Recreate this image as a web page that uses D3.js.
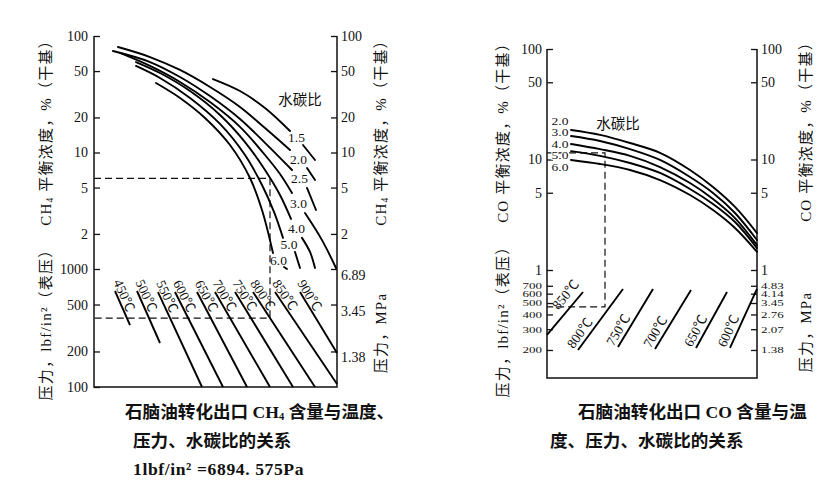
<!DOCTYPE html>
<html><head><meta charset="utf-8">
<script src="https://cdn.jsdelivr.net/npm/d3@7"></script>
<style>
body{margin:0;background:#fff;}
svg{display:block;background:#fff;}
</style></head><body>
<svg id="c" width="818" height="485"></svg>
<script>
// ---------- Left chart: CH4 ----------
const ch4Ratios = ["1.5","2.0","2.5","3.0","4.0","5.0","6.0"];
const ch4MainX = [
 [119,146,171,196],
 [24,56,86,116,146,171,196],
 [19,56,86,116,146,171,198],
 [26,56,86,116,146,171,186,198],
 [42,66,96,126,151,171,186,197],
 [42,66,96,126,151,168,180,189],
 [62,86,111,136,156,168,179]
];
const ch4MainPct = [
 [42.7,33.7,24.1,15.3],
 [80.4,66.0,51.1,36.5,24.6,16.2,10.5],
 [74.3,59.8,44.5,30.5,19.4,12.1,7.08],
 [71.5,55.3,40.3,27.1,16.6,9.52,6.54,4.49],
 [59.8,48.1,33.7,21.0,12.3,7.08,4.32,2.69],
 [55.3,43.6,29.4,17.6,9.52,5.26,3.09,1.85],
 [39.5,29.4,19.8,11.6,6.04,3.21,1.37]
];
const ch4TailX = [[209,221],[213,221],[213,222],[211,228,242],[208,216,221],[201,206],[190,193]];
const ch4TailPct = [[11.6,8.62],[7.36,5.81],[4.96,3.21],[3.02,1.77,1.02],[1.85,1.40,1.02],[1.40,1.02],[1.04,1.0]];

const ch4Temps = ["450℃","500℃","550℃","600℃","650℃","700℃","750℃","800℃","850℃","900℃"];
const ch4TempX0 = [21,43,64,81,103,121,141,159,181,206];
const ch4TempP0 = [651,651,638,638,638,638,638,638,638,638];
const ch4TempX1 = [36,66,108,129,153,176,199,221,243,243];
const ch4TempP1 = [335,236,100,100,100,100,100,100,106,194];

const ch4PctTicks = [100,50,20,10,5,2];
const ch4PsiTicks = [1000,500,200,100];
const ch4MpaPsiTicks = [1000,500,200];
const ch4Guide = {x:176, pct:6.0, psi:384};

// ---------- Right chart: CO ----------
const coRatios = ["2.0","3.0","4.0","5.0","6.0"];
const coX = [24,53,83,113,143,166,188,210];
const coPct = [
 [18.5,16.7,14.1,11.5,8.04,5.64,3.72,2.16],
 [16.3,14.7,12.4,9.90,6.94,4.98,3.28,1.87],
 [13.8,12.4,10.8,8.55,6.13,4.39,2.95,1.68],
 [11.9,10.8,9.30,7.55,5.41,3.96,2.72,1.58],
 [9.90,9.11,8.04,6.52,4.77,3.49,2.40,1.46]
];
const coTemps = ["850℃","800℃","750℃","700℃","650℃","600℃"];
const coTempX0 = [0,31,71,108,149,183];
const coTempP0 = [268,200,212,204,208,208];
const coTempX1 = [36,76,106,144,180,210];
const coTempP1 = [620,658,658,644,620,658];
const coPctTicks = [100,50,10,5,1];
const coPsiTicks = [700,600,500,400,300,200];
const coGuide = {x:58, pct:11.5, psi:463};

const PSI_TO_MPA = 0.00689476;

// ---------- drawing ----------
const svg = d3.select("#c");
const serif = '"Liberation Serif","Times New Roman","Noto Sans CJK SC",serif';
const cjk = '"Noto Sans CJK SC","Noto Sans",sans-serif';
const ink = "#111";

const xL = d3.scaleLinear().domain([0,243]).range([94,337]);
const yLpct = d3.scaleLog().domain([1,100]).range([269,36]);
const yLpsi = d3.scaleLog().domain([100,1000]).range([387,269]);

const xR = d3.scaleLinear().domain([0,210]).range([547,757]);
const yRpct = d3.scaleLog().domain([1,100]).range([270,49]);
const yRpsi = d3.scaleLog().domain([100,1000]).range([385.5,267.5]);

function drawAxis(x, axis, squish) {
  const g = svg.append("g").attr("transform", `translate(${x},0)`).call(axis);
  g.attr("font-family", serif).attr("font-size", 14);
  g.select(".domain").remove();
  g.selectAll(".tick line").attr("stroke", ink).attr("stroke-width", 1.3);
  g.selectAll(".tick text").attr("fill", ink);
  if (squish) g.selectAll(".tick text").attr("transform", "scale(1,0.68)").attr("font-size", 13);
  return g;
}
const fmtInt = d3.format("d");
const fmtMpa = d => d3.format(".2f")(d * PSI_TO_MPA);

// frames
svg.append("path").attr("d", `M${xL.range()[0]},${yLpct(100)}V${yLpsi(100)}H${xL.range()[1]}V${yLpct(100)}`)
  .attr("fill","none").attr("stroke",ink).attr("stroke-width",1.5);
svg.append("path").attr("d", `M${xR.range()[0]},${yRpct(100)}V378H${xR.range()[1]}V${yRpct(100)}`)
  .attr("fill","none").attr("stroke",ink).attr("stroke-width",1.5);

// left chart axes
drawAxis(94, d3.axisLeft(yLpct).tickValues(ch4PctTicks).tickFormat(fmtInt).tickSize(-6).tickPadding(6));
drawAxis(94, d3.axisLeft(yLpsi).tickValues(ch4PsiTicks).tickFormat(fmtInt).tickSize(-6).tickPadding(6));
drawAxis(337, d3.axisRight(yLpct).tickValues(ch4PctTicks).tickFormat(fmtInt).tickSize(-6).tickPadding(4));
drawAxis(337, d3.axisRight(yLpsi).tickValues(ch4MpaPsiTicks).tickFormat(fmtMpa).tickSize(-6).tickPadding(4))
  .selectAll(".tick text").attr("dy","0.75em");

// right chart axes
drawAxis(547, d3.axisLeft(yRpct).tickValues(coPctTicks).tickFormat(fmtInt).tickSize(-6).tickPadding(5));
drawAxis(547, d3.axisLeft(yRpsi).tickValues(coPsiTicks).tickFormat(fmtInt).tickSize(-6).tickPadding(5), true);
drawAxis(757, d3.axisRight(yRpct).tickValues(coPctTicks).tickFormat(fmtInt).tickSize(-6).tickPadding(4));
drawAxis(757, d3.axisRight(yRpsi).tickValues(coPsiTicks).tickFormat(fmtMpa).tickSize(-6).tickPadding(4), true);

const curve = d3.line().curve(d3.curveCatmullRom.alpha(0.5));

// dashed guides
svg.append("path")
  .attr("d", `M${xL(0)},${yLpct(ch4Guide.pct)}H${xL(ch4Guide.x)}V${yLpsi(ch4Guide.psi)}H${xL(0)}`)
  .attr("fill","none").attr("stroke",ink).attr("stroke-width",1.2).attr("stroke-dasharray","7,4");
svg.append("path")
  .attr("d", `M${xR(0)},${yRpct(coGuide.pct)}H${xR(coGuide.x)}V${yRpsi(coGuide.psi)}H${xR(0)}`)
  .attr("fill","none").attr("stroke",ink).attr("stroke-width",1.2).attr("stroke-dasharray","7,4");

// CH4 ratio curves
ch4Ratios.forEach((r,i) => {
  const main = ch4MainX[i].map((x,j) => [xL(x), yLpct(ch4MainPct[i][j])]);
  const tail = ch4TailX[i].map((x,j) => [xL(x), yLpct(ch4TailPct[i][j])]);
  [main, tail].forEach(pts => svg.append("path").attr("d", curve(pts))
    .attr("fill","none").attr("stroke","#000").attr("stroke-width",1.9).attr("stroke-linecap","round"));
  const a = main[main.length-1], b = tail[0];
  svg.append("text").attr("x",(a[0]+b[0])/2).attr("y",(a[1]+b[1])/2)
    .attr("text-anchor","middle").attr("dominant-baseline","central")
    .attr("font-family",serif).attr("font-size",13.5).attr("fill",ink).text(r);
});
svg.append("text").attr("x",300).attr("y",98).attr("text-anchor","middle").attr("dominant-baseline","central")
  .attr("font-family",cjk).attr("font-size",14.5).attr("fill",ink).text("水碳比");

// CH4 temperature lines
ch4Temps.forEach((t,i) => {
  const p0 = [xL(ch4TempX0[i]), yLpsi(ch4TempP0[i])], p1 = [xL(ch4TempX1[i]), yLpsi(ch4TempP1[i])];
  svg.append("line").attr("x1",p0[0]).attr("y1",p0[1]).attr("x2",p1[0]).attr("y2",p1[1])
    .attr("stroke","#000").attr("stroke-width",1.9);
  const dx = p1[0]-p0[0], dy = p1[1]-p0[1], len = Math.hypot(dx,dy);
  const u = [dx/len, dy/len], up = [u[1], -u[0]];
  const s = [p0[0] - 9*u[0] + 2*up[0], p0[1] - 9*u[1] + 2*up[1]];
  svg.append("text").attr("transform",`translate(${s[0]},${s[1]}) rotate(${Math.atan2(dy,dx)*180/Math.PI})`)
    .attr("font-family",serif).attr("font-size",13.5).attr("fill",ink).text(t);
});

// CO ratio curves
coRatios.forEach((r,i) => {
  const pts = coX.map((x,j) => [xR(x), yRpct(coPct[i][j])]);
  svg.append("path").attr("d", curve(pts)).attr("fill","none").attr("stroke","#000")
    .attr("stroke-width",1.9).attr("stroke-linecap","round");
});
const midY = yRpct(coPct[2][0]);
coRatios.forEach((r,i) => {
  svg.append("text").attr("transform",`translate(${xR(13)},${midY + (i-2)*11.5}) scale(1,0.8)`)
    .attr("text-anchor","middle").attr("dominant-baseline","central")
    .attr("font-family",serif).attr("font-size",13.5).attr("fill",ink)
    .attr("stroke","#fff").attr("stroke-width",2.5).attr("paint-order","stroke").text(r);
});
svg.append("text").attr("x",618).attr("y",122).attr("text-anchor","middle").attr("dominant-baseline","central")
  .attr("font-family",cjk).attr("font-size",14.5).attr("fill",ink).text("水碳比");

// CO temperature lines
coTemps.forEach((t,i) => {
  const p0 = [xR(coTempX0[i]), yRpsi(coTempP0[i])], p1 = [xR(coTempX1[i]), yRpsi(coTempP1[i])];
  svg.append("line").attr("x1",p0[0]).attr("y1",p0[1]).attr("x2",p1[0]).attr("y2",p1[1])
    .attr("stroke","#000").attr("stroke-width",1.9);
  const dx = p1[0]-p0[0], dy = p1[1]-p0[1], len = Math.hypot(dx,dy);
  const u = [dx/len, dy/len], up = [u[1], -u[0]];
  const along = i === 0 ? 26 : -2, off = i === 0 ? 7 : 4;
  const s = [p0[0] + along*u[0] + off*up[0], p0[1] + along*u[1] + off*up[1]];
  svg.append("text").attr("transform",`translate(${s[0]},${s[1]}) rotate(${Math.atan2(dy,dx)*180/Math.PI})`)
    .attr("font-family",serif).attr("font-size",13.5).attr("fill",ink).text(t);
});

// vertical axis titles
function vtitle(x, y, parts) {
  const t = svg.append("text").attr("transform",`translate(${x},${y}) rotate(-90)`)
    .attr("text-anchor","middle").attr("dominant-baseline","central")
    .attr("font-family",serif).attr("font-size",15).attr("letter-spacing",1.2).attr("fill",ink);
  parts.forEach(p => {
    const ts = t.append("tspan").text(p[0]);
    if (p[1] === "sub") ts.attr("font-size",9.5).attr("dy",4);
    if (p[1] === "back") ts.attr("dy",-4);
  });
}
const ch4Title = [["CH"],["4","sub"],[" 平衡浓度，%（干基）","back"]];
const coTitle = [["CO 平衡浓度，%（干基）"]];
vtitle(46,129, ch4Title);
vtitle(46,321, [["压力，lbf/in²（表压）"]]);
vtitle(381,129, ch4Title);
vtitle(381,333, [["压力，MPa"]]);
vtitle(503,129, coTitle);
vtitle(503,318, [["压力，lbf/in²（表压）"]]);
vtitle(806,128, coTitle);
vtitle(806,332, [["压力，MPa"]]);

// captions
function caption(x, y, parts, size, spacing) {
  const t = svg.append("text").attr("x",x).attr("y",y).attr("dominant-baseline","central")
    .attr("font-family",serif).attr("font-size",size).attr("font-weight","bold").attr("fill",ink)
    .attr("letter-spacing", spacing || 0);
  parts.forEach(p => {
    const ts = t.append("tspan").text(p[0]);
    if (p[1] === "sub") ts.attr("font-size",size*0.6).attr("dy",4);
    if (p[1] === "back") ts.attr("dy",-4);
  });
}
caption(125,412,[["石脑油转化出口 CH"],["4","sub"],[" 含量与温度、","back"]],17.6);
caption(133,441,[["压力、水碳比的关系"]],17.6);
caption(133,469,[["1lbf/in² =6894. 575Pa"]],17.6,0.6);
caption(578,412,[["石脑油转化出口 CO 含量与温"]],17.6);
caption(550,441,[["度、压力、水碳比的关系"]],17.6);
</script></body></html>
